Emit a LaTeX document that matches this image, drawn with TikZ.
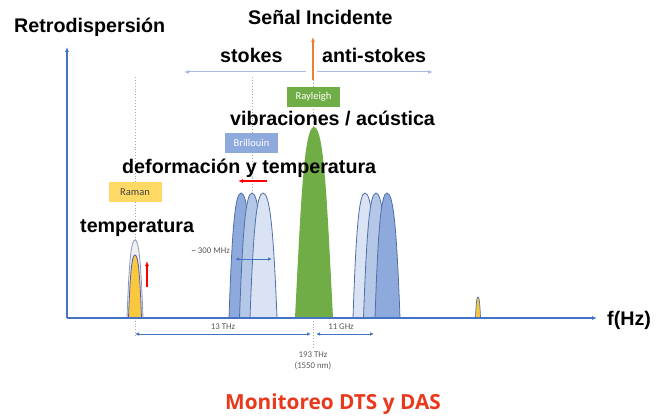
\documentclass[tikz,border=0pt]{standalone}
\usepackage{fontspec}
\setmainfont{Liberation Sans}
\newfontfamily\calib{Carlito}
\newfontfamily\opens{Open Sans}
\usetikzlibrary{arrows.meta}
\definecolor{axisblue}{HTML}{4472C4}
\definecolor{lightarr}{HTML}{A9BCE0}
\definecolor{bdark}{HTML}{8EA9DB}
\definecolor{bmid}{HTML}{B4C7E7}
\definecolor{blight}{HTML}{DAE3F3}
\definecolor{boutline}{HTML}{4F6FA8}
\definecolor{rgreen}{HTML}{70AD47}
\definecolor{ryellow}{HTML}{FFD966}
\definecolor{pyellow}{HTML}{F8C93E}
\definecolor{oarrow}{HTML}{ED7D31}
\definecolor{monred}{HTML}{E8391D}
\definecolor{dotgray}{HTML}{A6A6A6}
\definecolor{smallgray}{HTML}{595959}
\tikzset{
  big/.style={font=\bfseries\fontsize{19.7}{21}\selectfont, inner sep=0, anchor=base west},
  tagbox/.style={font=\calib\fontsize{10.5}{11}\selectfont, minimum width=53, minimum height=20, inner sep=0},
  small/.style={font=\calib\fontsize{8.8}{9}\selectfont, text=smallgray, inner sep=0},
  dotl/.style={draw=dotgray, dotted, line width=0.9},
  axisline/.style={draw=axisblue, line width=1.6, -{Latex[length=5pt,width=4pt]}},
  dimarr/.style={draw=axisblue, line width=0.8, {Latex[length=4pt,width=3.5pt]}-{Latex[length=4pt,width=3.5pt]}},
  stokesarr/.style={draw=lightarr, line width=1, -{Latex[length=5pt,width=4pt]}},
  redarr/.style={draw=red, line width=1.2, -{Latex[length=5pt,width=4pt]}},
  pics/bump/.style n args={4}{code={
    \path[pic actions] (#1,318) .. controls ({#1+0.25*(#2-#1)},{#4+0.3*(318-#4)}) and ({#2-0.5*(#2-#1)},#4) .. (#2,#4)
       .. controls ({#2+0.5*(#3-#2)},#4) and ({#3-0.25*(#3-#2)},{#4+0.3*(318-#4)}) .. (#3,318) -- cycle;
  }}
}
\begin{document}
\begin{tikzpicture}[x=1pt,y=-1pt]
\useasboundingbox (0,0) rectangle (661,417);

% coordinates
\coordinate (origin) at (67,318);
\coordinate (ytip) at (67,47);
\coordinate (xtip) at (597,318);
\coordinate (dA1) at (135,77);
\coordinate (dA2) at (135,338);
\coordinate (dB1) at (252,77);
\coordinate (dB2) at (252,318);
\coordinate (dC1) at (313,80);
\coordinate (dC2) at (313,348);

% dotted guide lines
\draw[dotl] (dA1) -- (dA2);
\draw[dotl] (dB1) -- (dB2);
\draw[dotl] (dC1) -- (dC2);

% incident signal arrow
\coordinate (inc0) at (313,80);
\coordinate (inc1) at (313,37);
\draw[draw=oarrow, line width=1.3, -{Latex[length=5pt,width=4pt]}] (inc0) -- (inc1);

% stokes / anti-stokes arrows
\coordinate (sk0) at (306,72);
\coordinate (sk1) at (184,72);
\coordinate (ak0) at (317,72);
\coordinate (ak1) at (433,72);
\draw[stokesarr] (sk0) -- (sk1);
\draw[stokesarr] (ak0) -- (ak1);

% peaks: Raman (stokes)
\pic[fill=gray!12, draw=boutline!70, line width=0.8] {bump={127}{135}{143}{240}};
\pic[fill=pyellow, draw=gray!70!blue, line width=0.8] {bump={128.5}{135}{141.5}{255}};
% Brillouin stokes
\pic[fill=bdark, draw=boutline, line width=0.8] {bump={229}{241}{254}{193}};
\pic[fill=bmid, draw=boutline, line width=0.8] {bump={239.5}{252}{265}{193}};
\pic[fill=blight, draw=boutline, line width=0.8] {bump={250}{263}{277}{193}};
% Rayleigh
\path[fill=rgreen] (295,318) .. controls (301,200) and (304,127) .. (314,127)
   .. controls (324,127) and (327,200) .. (333,318) -- cycle;
% Brillouin anti-stokes
\pic[fill=blight, draw=boutline, line width=0.8] {bump={353}{365}{378}{193}};
\pic[fill=bmid, draw=boutline, line width=0.8] {bump={363.5}{376}{389}{193}};
\pic[fill=bdark, draw=boutline, line width=0.8] {bump={375}{387}{400}{193}};
% Raman anti-stokes
\pic[fill=pyellow, draw=boutline, line width=0.7] {bump={475.5}{478}{480.5}{297}};

% axes
\draw[axisline] (origin) -- (ytip);
\draw[axisline] (origin) -- (xtip);

% red arrows
\coordinate (ra0) at (267,181);
\coordinate (ra1) at (238,181);
\draw[redarr] (ra0) -- (ra1);
\coordinate (ru0) at (147,287);
\coordinate (ru1) at (147,261);
\draw[redarr] (ru0) -- (ru1);

% boxes
\node[tagbox, fill=rgreen, text=white] (rayleigh) at (313.5,97) {Rayleigh};
\node[tagbox, fill=bdark, text=white] (brillouin) at (251.5,143) {Brillouin};
\node[tagbox, fill=ryellow, text=black!75] (raman) at (135,192) {Raman};

% big labels
\node[big] (retro) at (14,33) {Retrodispersión};
\node[big] (senal) at (248,25) {Señal Incidente};
\node[big] (stokes) at (220,63) {stokes};
\node[big] (anti) at (322,63) {anti-stokes};
\node[big] (vib) at (230,125) {vibraciones / acústica};
\node[big] (defo) at (122,173) {deformación y temperatura};
\node[big] (temp) at (80,232) {temperatura};
\node[big] (fhz) at (607,325) {f(Hz)};

% dimension arrows
\coordinate (m0) at (235,259);
\coordinate (m1) at (272,259);
\draw[dimarr] (m0) -- (m1);
\node[small, anchor=east] (mhz) at (230,251) {\textasciitilde{} 300 MHz};
\coordinate (t0) at (135,334);
\coordinate (t1) at (311,334);
\draw[dimarr] (t0) -- (t1);
\node[small] (thz) at (223,327) {13 THz};
\coordinate (g0) at (316,334);
\coordinate (g1) at (374,334);
\draw[dimarr] (g0) -- (g1);
\node[small] (ghz) at (341,327) {11 GHz};
\node[small] (f193) at (313,355) {193 THz};
\node[small] (nm) at (313,366) {(1550 nm)};

% title
\node[font=\opens\bfseries\fontsize{20.8}{22}\selectfont, text=monred, inner sep=0, anchor=base] (title) at (333,409) {Monitoreo DTS y DAS};
\end{tikzpicture}
\end{document}
